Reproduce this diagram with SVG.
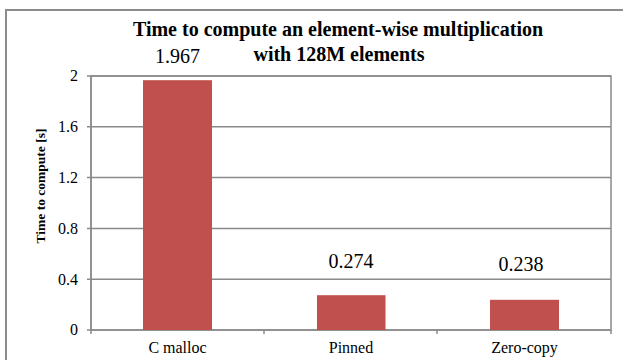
<svg xmlns="http://www.w3.org/2000/svg" width="623" height="360" viewBox="0 0 623 360" font-family="'Liberation Serif', 'DejaVu Serif', serif">
<style>
.grid{stroke:#8a8a8a;stroke-width:1.5;fill:none}
.bar{fill:#C0504D}
text{font-family:'Liberation Serif','DejaVu Serif',serif;fill:#000}
.tick{font-size:16px;text-anchor:end}
.cat{font-size:16px;text-anchor:middle}
.val{font-size:20px;text-anchor:middle}
.title{font-size:20px;font-weight:bold;text-anchor:middle}
.ytitle{font-size:13.5px;font-weight:bold;text-anchor:middle}
</style>
<rect x="0" y="0" width="623" height="360" fill="#fff"/>
<rect x="6" y="10" width="700" height="400" fill="#fff" stroke="#8c8c8c" stroke-width="2"/>
<g id="title">
<text class="title" x="338" y="36">Time to compute an element-wise multiplication</text>
<text class="title" x="339" y="61">with 128M elements</text>
</g>
<g id="plot-area">
<rect x="91" y="76" width="520" height="254" fill="#fff" stroke="#8a8a8a" stroke-width="1.5"/>
<path class="grid" d="M87 76H611M87 126.8H611M87 177.6H611M87 228.4H611M87 279.2H611M87 330H611M91 76V330M91 330V334M264 330V334M437 330V334M611 330V334"/>
</g>
<g id="y-axis">
<text class="tick" x="78" y="81">2</text>
<text class="tick" x="78" y="132">1.6</text>
<text class="tick" x="78" y="182.5">1.2</text>
<text class="tick" x="78" y="233.5">0.8</text>
<text class="tick" x="78" y="284.5">0.4</text>
<text class="tick" x="78" y="335">0</text>
<text class="ytitle" transform="translate(45,186) rotate(-90)">Time to compute [s]</text>
</g>
<g id="bar-c-malloc">
<rect class="bar" x="143" y="80.2" width="69" height="249.8"/>
<text class="val" x="177.5" y="63">1.967</text>
<text class="cat" x="177.5" y="353">C malloc</text>
</g>
<g id="bar-pinned">
<rect class="bar" x="317" y="295.2" width="68.5" height="34.8"/>
<text class="val" x="351" y="268">0.274</text>
<text class="cat" x="351" y="353">Pinned</text>
</g>
<g id="bar-zero-copy">
<rect class="bar" x="490" y="299.8" width="69" height="30.2"/>
<text class="val" x="521" y="270.5">0.238</text>
<text class="cat" x="524.5" y="353">Zero-copy</text>
</g>
</svg>
